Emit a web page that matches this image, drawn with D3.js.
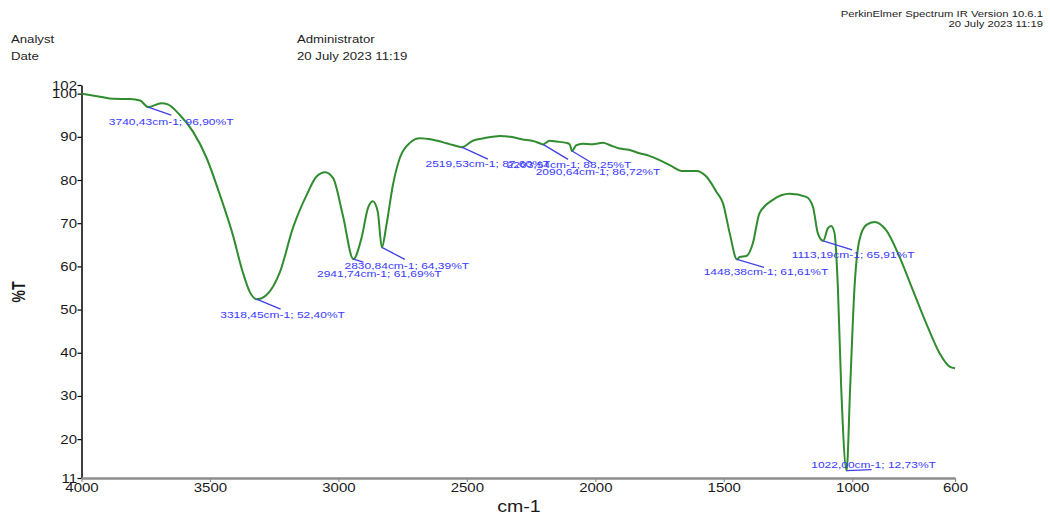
<!DOCTYPE html>
<html>
<head>
<meta charset="utf-8">
<script src="https://cdn.jsdelivr.net/npm/d3@7"></script>
<style>
  html, body { margin: 0; padding: 0; background: #ffffff; }
  svg { display: block; }
  text { font-family: "Liberation Sans", Arial, sans-serif; }
</style>
</head>
<body>
<svg id="chart" width="1050" height="517"></svg>
<script>
// ---------------- DATA ----------------
const wavenumbers = [
  4000, 3928, 3877, 3811, 3772, 3740.43, 3689, 3664, 3617, 3566, 3513, 3461, 3411, 3373, 3345,
  3318.45, 3280, 3227, 3177, 3124, 3085, 3052, 3021, 2983, 2941.74, 2910, 2885, 2866, 2847,
  2830.84, 2813, 2788, 2761, 2722, 2683, 2633, 2579, 2555, 2519.53, 2477, 2440, 2400, 2372,
  2330, 2283, 2240, 2216, 2203.54, 2178, 2150, 2113, 2100, 2090.64, 2075, 2050, 2010, 1971,
  1940, 1905, 1870, 1828, 1790, 1750, 1700, 1665, 1607, 1568, 1529, 1503, 1477, 1448.38, 1438,
  1412, 1387, 1361, 1309, 1244, 1179, 1153, 1134, 1113.19, 1095, 1082, 1069, 1056, 1043,
  1022.00, 1008, 991, 972, 945, 913, 868, 816, 764, 712, 660, 621, 600
];
const transmittance = [
  100.0, 99.3, 98.8, 98.75, 98.4, 96.90, 97.8, 97.5, 95.05, 91.2, 85.1, 76.5, 67.3, 58.8, 54.1,
  52.40, 53.4, 58.8, 68.9, 76.5, 80.8, 81.8, 80.5, 71.9, 61.69, 66.6, 73.5, 75.1, 72.7,
  64.39, 69.6, 78.8, 85.1, 88.6, 89.65, 89.3, 88.5, 88.1, 87.6, 89.1, 89.6, 90.0, 90.2,
  90.0, 89.4, 89.0, 88.5, 88.25, 89.1, 88.9, 88.6, 88.3, 86.72, 88.0, 88.4, 88.3, 88.6,
  88.0, 87.3, 87.0, 86.2, 85.6, 84.6, 83.1, 82.1, 82.1, 80.8, 77.3, 74.6, 67.7, 61.61, 62.2,
  62.4, 65.3, 72.3, 75.4, 76.8, 76.1, 73.8, 67.7, 65.91, 68.8, 69.35, 67.7, 55.3, 32.1,
  12.73, 32.1, 55.3, 66.1, 69.6, 70.3, 68.4, 62.2, 54.5, 46.8, 39.9, 36.8, 36.4
];

const peakWavenumbers = [3740.43, 3318.45, 2941.74, 2830.84, 2519.53, 2203.54, 2090.64, 1448.38, 1113.19, 1022.00];
const peakTransmittance = [96.90, 52.40, 61.69, 64.39, 87.60, 88.25, 86.72, 61.61, 65.91, 12.73];

const yTickValues = [102, 100, 90, 80, 70, 60, 50, 40, 30, 20, 11];
const xTickValues = [4000, 3500, 3000, 2500, 2000, 1500, 1000, 600];

const headerLeftLabels = ["Analyst", "Date"];
const headerLeftValues = ["Administrator", "20 July 2023 11:19"];
const headerRight = ["PerkinElmer Spectrum IR Version 10.6.1", "20 July 2023 11:19"];
const xAxisTitle = "cm-1";
const yAxisTitle = "%T";

// ---------------- LAYOUT ----------------
// per-peak label layout: [lineDx, lineDy, textDx, textBaselineDy] in px
const peakLabelLayout = [
  [23, 8, 0, 9.5],
  [24, 10, 2, 8.7],
  [10, 3, 16, 14.5],
  [23, 12, 2, 10],
  [26, 12, 0, 8],
  [25, 15, 1, 9],
  [20, 12, 6, 12],
  [27, 8, 2, 8],
  [29, 9, 1, 8],
  [25, -1, 2, -2]
];

const svg = d3.select("#chart");
const plot = { left: 81.5, right: 955, top: 85, bottom: 478 };

const x = d3.scaleLinear().domain([4000, 600]).range([plot.left, plot.right]);
const y = d3.scaleLinear().domain([11, 102]).range([plot.bottom, plot.top]);

function stretch(sel, sx) {
  sel.each(function () {
    const t = d3.select(this);
    const ax = +t.attr("x") || 0;
    const ay = +t.attr("y") || 0;
    t.attr("transform", `translate(${ax},${ay}) scale(${sx},1) translate(${-ax},${-ay})`);
  });
}

// header
const hdr = svg.append("g").attr("fill", "#1e1e1e").style("font-size", "11px");
headerLeftLabels.forEach((s, i) => {
  hdr.append("text").attr("x", 11).attr("y", 43 + i * 17.5).text(s).call(stretch, 1.2);
});
headerLeftValues.forEach((s, i) => {
  hdr.append("text").attr("x", 297).attr("y", 43 + i * 17.5).text(s).call(stretch, 1.2);
});
const hdrR = svg.append("g").attr("fill", "#1e1e1e").style("font-size", "9.4px").attr("text-anchor", "end");
headerRight.forEach((s, i) => {
  hdrR.append("text").attr("x", 1043).attr("y", 17 + i * 10.5).text(s).call(stretch, 1.2);
});

// axes
const yAxis = d3.axisLeft(y).tickValues(yTickValues).tickSize(4).tickSizeOuter(0).tickPadding(0.5);
const gy = svg.append("g").attr("transform", `translate(${plot.left},0)`).call(yAxis);
gy.select(".domain").attr("stroke", "#000").attr("stroke-width", 1.5);
gy.selectAll(".tick line").attr("stroke", "#000").attr("stroke-width", 1.2);
gy.selectAll(".tick text")
  .style("font-size", "12.5px")
  .attr("fill", "#1a1a1a")
  .call(stretch, 1.2);

const xAxis = d3.axisBottom(x).tickValues(xTickValues).tickFormat(d3.format("d")).tickSize(4).tickSizeOuter(0).tickPadding(1);
const gx = svg.append("g").attr("transform", `translate(0,${plot.bottom})`).call(xAxis);
gx.select(".domain").attr("stroke", "#8e8e8e").attr("stroke-width", 2.5);
gx.selectAll(".tick line").attr("stroke", "#8e8e8e").attr("stroke-width", 1.2);
gx.selectAll(".tick text")
  .style("font-size", "12.5px")
  .attr("fill", "#1a1a1a")
  .call(stretch, 1.2);

// axis titles
svg.append("text")
  .attr("transform", `translate(25,292) rotate(-90) scale(1,1.25)`)
  .attr("text-anchor", "middle")
  .style("font-size", "14px")
  .style("font-weight", "bold")
  .attr("fill", "#1a1a1a")
  .text(yAxisTitle);

svg.append("text")
  .attr("x", 519).attr("y", 512)
  .attr("text-anchor", "middle")
  .style("font-size", "17px")
  .attr("fill", "#1a1a1a")
  .text(xAxisTitle)
  .call(stretch, 1.15);

// spectrum
const pts = wavenumbers.map((w, i) => [w, transmittance[i]]);
const line = d3.line().x(d => x(d[0])).y(d => y(d[1])).curve(d3.curveMonotoneX);
svg.append("path")
  .datum(pts)
  .attr("d", line)
  .attr("fill", "none")
  .attr("stroke", "#2f8c2f")
  .attr("stroke-width", 2)
  .attr("stroke-linejoin", "round");

// peak annotations
const fmt = v => v.toFixed(2).replace(".", ",");
const ann = svg.append("g");
peakWavenumbers.forEach((w, i) => {
  const t = peakTransmittance[i];
  const [ldx, ldy, tdx, tdy] = peakLabelLayout[i];
  const px = x(w), py = y(t);
  const ex = px + ldx, ey = py + ldy;
  ann.append("line")
    .attr("x1", px).attr("y1", py).attr("x2", ex).attr("y2", ey)
    .attr("stroke", "#3f3fe6").attr("stroke-width", 1.3);
  ann.append("text")
    .attr("x", ex + tdx).attr("y", ey + tdy)
    .attr("text-anchor", "middle")
    .style("font-size", "9.6px")
    .attr("fill", "#3a3aff")
    .text(`${fmt(w)}cm-1; ${fmt(t)}%T`)
    .call(stretch, 1.25);
});
</script>
</body>
</html>
